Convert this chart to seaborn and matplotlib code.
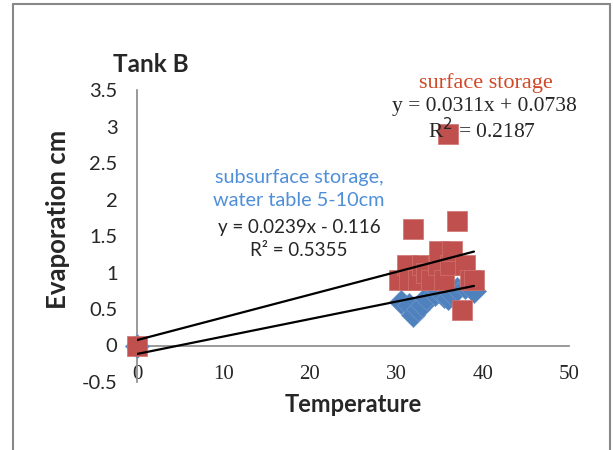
import numpy as np
import pandas as pd
import seaborn as sns
import matplotlib.pyplot as plt
from matplotlib.lines import Line2D

# surface storage (red squares)
surf_temp = [0, 30.3, 31.2, 31.5, 31.9, 32.5, 33.0, 33.5, 34.0, 34.8, 35.0, 35.5,
             36.0, 36.2, 36.5, 37.0, 37.6, 38.0, 38.5, 39.0]
surf_evap = [0, 0.9, 1.1, 0.9, 1.6, 0.9, 1.1, 1.0, 0.9, 1.1, 1.3, 0.9,
             2.9, 1.1, 1.3, 1.7, 0.48, 1.1, 0.9, 0.9]

# subsurface storage, water table 5-10cm (blue diamonds)
sub_temp = [0, 30.5, 31.5, 32.0, 32.5, 33.0, 33.5, 34.5, 35.0, 35.5, 36.0,
            36.5, 37.0, 38.0, 38.5, 39.0]
sub_evap = [0, 0.6, 0.55, 0.42, 0.5, 0.55, 0.65, 0.7, 0.75, 0.68, 0.65,
            0.7, 0.78, 0.8, 0.85, 0.75]

# trendline coefficients (slope, intercept)
surf_fit = [0.0311, 0.0738]
sub_fit = [0.0239, -0.116]
fit_x = [0, 39]

x_ticks = [0, 10, 20, 30, 40, 50]
y_ticks = [-0.5, 0, 0.5, 1, 1.5, 2, 2.5, 3, 3.5]

sns.set_style("white")
plt.rcParams['font.family'] = ['Lato', 'DejaVu Sans']

fig = plt.figure(figsize=(6.13, 4.5), dpi=100)
ax = fig.add_axes([137 / 613, 68 / 450, 432 / 613, 292 / 450])

surf = pd.DataFrame({"temp": surf_temp, "evap": surf_evap})
sub = pd.DataFrame({"temp": sub_temp, "evap": sub_evap})

sns.scatterplot(data=sub, x="temp", y="evap", marker="D", s=150, clip_on=False,
                color="#4F81BD", edgecolor="#6A96CC", linewidth=0.5, ax=ax, zorder=3)
sns.scatterplot(data=surf, x="temp", y="evap", marker="s", s=210, clip_on=False,
                color="#C0504D", edgecolor="#D07370", linewidth=0.5, ax=ax, zorder=4)

fx = np.array(fit_x)
for slope, icpt in (surf_fit, sub_fit):
    ax.plot(fx, slope * fx + icpt, color="black", lw=1.6, zorder=5)

for s in ["top", "right"]:
    ax.spines[s].set_visible(False)
ax.spines["bottom"].set_position(("data", 0))
ax.spines["bottom"].set_color("#888888")
ax.spines["left"].set_color("#888888")
ax.spines["bottom"].set_linewidth(1.2)
ax.spines["left"].set_linewidth(1.2)

ax.set_xlim(0, 50)
ax.set_ylim(-0.5, 3.5)
ax.set_xticks(x_ticks)
ax.set_yticks(y_ticks)
ax.set_xticklabels([str(t) for t in x_ticks], family="Liberation Serif", fontsize=15)
ax.set_yticklabels([f"{t:g}" for t in y_ticks], fontsize=14.5)
ax.tick_params(axis="both", length=0)
ax.tick_params(axis="x", pad=14)
ax.tick_params(axis="y", pad=14)

ax.set_xlabel("")
ax.set_ylabel("")
fig.text(353 / 613, 1 - 405 / 450, "Temperature", ha="center", va="center",
         fontsize=17, fontweight="bold")
fig.text(58 / 613, 1 - 219 / 450, "Evaporation cm", ha="center", va="center",
         rotation=90, fontsize=18.5, fontweight="bold")
fig.text(151 / 613, 1 - 64 / 450, "Tank B", ha="center", va="center",
         fontsize=17.5, fontweight="bold")

fig.text(486 / 613, 1 - 83 / 450, "surface storage", ha="center", va="center",
         family="Liberation Serif", fontsize=16, color="#D24726")
fig.text(484 / 613, 1 - 107 / 450, "y = 0.0311x + 0.0738", ha="center", va="center",
         family="Liberation Serif", fontsize=15.5)
fig.text(482 / 613, 1 - 131 / 450, "R$^2$ = 0.2187", ha="center", va="center",
         family="Liberation Serif", fontsize=15.5)

fig.text(299 / 613, 1 - 178 / 450, "subsurface storage,", ha="center", va="center",
         fontsize=14.3, color="#4F8FD8")
fig.text(299 / 613, 1 - 201 / 450, "water table 5-10cm", ha="center", va="center",
         fontsize=14.3, color="#4F8FD8")
fig.text(299 / 613, 1 - 227 / 450, "y = 0.0239x - 0.116", ha="center", va="center",
         fontsize=13.5)
fig.text(299 / 613, 1 - 251 / 450, "R² = 0.5355", ha="center", va="center",
         fontsize=13.5)

# chart frame (left, top, right)
fr = "#888888"
fig.add_artist(Line2D([13 / 613, 13 / 613], [0, 1 - 4 / 450], color=fr, lw=1.5,
                      transform=fig.transFigure))
fig.add_artist(Line2D([13 / 613, 610 / 613], [1 - 4 / 450, 1 - 4 / 450], color=fr, lw=1.5,
                      transform=fig.transFigure))
fig.add_artist(Line2D([610 / 613, 610 / 613], [0, 1 - 4 / 450], color=fr, lw=1.5,
                      transform=fig.transFigure))

fig.savefig("out.png", dpi=100)
